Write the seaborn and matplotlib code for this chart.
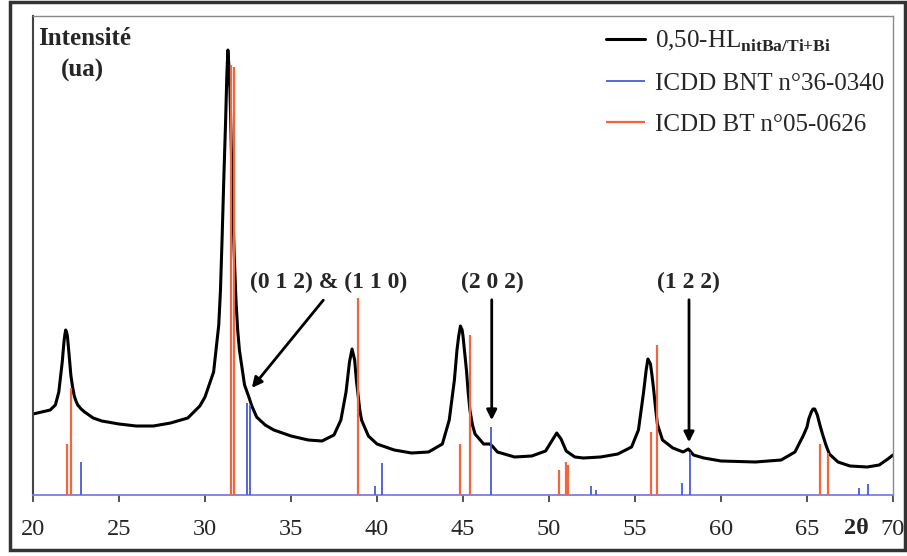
import matplotlib
matplotlib.use("Agg")
import matplotlib.pyplot as plt
import pandas as pd
import seaborn as sns
from matplotlib.patches import Rectangle

two_theta = [20.0, 20.5, 21.0, 21.3, 21.5, 21.6, 21.7, 21.8, 21.85, 21.9, 21.95, 22.0, 22.05,
             22.1, 22.2, 22.3, 22.4, 22.5, 22.6, 22.8, 23.0, 23.5, 24.0, 25.0, 26.0, 27.0,
             28.0, 29.0, 29.7, 30.0, 30.5, 30.8, 30.9, 31.0, 31.1, 31.2, 31.27, 31.33, 31.38,
             31.45, 31.5, 31.6, 31.7, 31.8, 31.9, 32.0, 32.3, 32.55, 32.7, 33.0, 33.5, 34.0,
             35.0, 36.0, 36.8, 37.5, 37.9, 38.2, 38.3, 38.4, 38.55, 38.7, 38.8, 38.9, 39.0,
             39.1, 39.5, 40.0, 41.0, 42.0, 43.0, 43.8, 44.2, 44.5, 44.65, 44.75, 44.85, 44.95,
             45.0, 45.1, 45.2, 45.3, 45.4, 45.55, 45.7, 46.2, 46.55, 46.7, 47.0, 48.0, 49.0,
             49.8, 50.2, 50.45, 50.7, 51.0, 51.5, 52.0, 53.0, 54.0, 54.8, 55.2, 55.5, 55.65,
             55.75, 55.9, 56.0, 56.1, 56.2, 56.3, 56.6, 57.2, 57.8, 58.1, 58.4, 59.0, 60.0,
             62.0, 63.5, 64.3, 64.8, 65.0, 65.1, 65.25, 65.35, 65.45, 65.6, 65.75, 65.9, 66.1,
             66.3, 66.8, 67.5, 68.5, 69.2, 69.7, 70.0]
intensity = [81, 83, 85, 90, 103, 118, 133, 153, 160, 165, 163, 159, 150,
             140, 120, 108, 99, 94, 90, 86, 83, 77, 74, 71, 69, 69,
             72, 77, 89, 98, 123, 170, 205, 260, 320, 375, 420, 445, 432,
             405, 370, 295, 240, 195, 165, 145, 110, 98, 90, 78, 70, 65,
             59, 55, 54, 60, 75, 103, 118, 133, 146, 135, 115, 100, 85,
             75, 59, 51, 45, 42, 43, 51, 75, 115, 145, 159, 169, 165,
             159, 142, 125, 103, 85, 70, 61, 51, 51, 49, 43, 38, 39,
             44, 55, 62, 56, 44, 38, 37, 38, 41, 48, 65, 103, 125,
             136, 131, 118, 103, 86, 71, 55, 47, 43, 46, 40, 37, 34,
             33, 35, 43, 60, 68, 76, 83, 86, 86, 80, 70, 61, 50,
             41, 33, 29, 28, 30, 36, 40]

# ICDD BT n°05-0626 reference lines
bt_pos = [22.0, 22.21, 31.51, 31.66, 38.9, 44.83, 45.38, 50.56, 50.97, 51.08, 55.91, 56.26, 65.78, 66.2]
bt_int = [51, 107, 430, 428, 197, 51, 160, 25, 33, 30, 63, 150, 51, 42]

# ICDD BNT n°36-0340 reference lines
bnt_pos = [22.79, 32.42, 32.62, 39.88, 40.29, 46.63, 52.42, 52.73, 57.73, 58.17, 68.0, 68.55]
bnt_int = [33, 92, 90, 9, 32, 68, 9, 5, 12, 43, 7, 11]

ticks = [20, 25, 30, 35, 40, 45, 50, 55, 60, 65, 70]

sns.set_style("white")
plt.rcParams["font.family"] = ["Liberation Serif", "DejaVu Serif"]
plt.rcParams["mathtext.fontset"] = "custom"
plt.rcParams["mathtext.rm"] = "Liberation Serif"
plt.rcParams["mathtext.bf"] = "Liberation Serif:bold"

fig = plt.figure(figsize=(9.07, 5.56), dpi=100)
ax = fig.add_axes([33 / 907, 61 / 556, 860 / 907, 479 / 556])

df = pd.DataFrame({"2theta": two_theta, "I": intensity})
sns.lineplot(data=df, x="2theta", y="I", ax=ax, color="black", lw=2.2,
             label=r"0,50-HL$_{\mathbf{nitBa/Ti{+}Bi}}$", zorder=2)
ax.vlines(bnt_pos, 0, bnt_int, color="#4a5bd6", lw=1.3, label="ICDD BNT n°36-0340", zorder=3)
ax.vlines(bt_pos, 0, bt_int, color="#f3653c", lw=1.6, label="ICDD BT n°05-0626", zorder=3)

ax.set_xlim(20, 70)
ax.set_ylim(0, 479)
ax.set_xticks(ticks)
ax.set_xticklabels([str(t) for t in ticks])
ax.set_yticks([])
ax.set_xlabel("")
ax.set_ylabel("")
ax.tick_params(axis="x", direction="out", length=5, width=1.2, color="#333333",
               labelsize=17.5, pad=12, bottom=True)

for side in ["top", "right"]:
    ax.spines[side].set_color("#8a8a8a")
    ax.spines[side].set_linewidth(1)
ax.spines["left"].set_color("#444444")
ax.spines["left"].set_linewidth(1.5)
ax.spines["bottom"].set_color("#7d7de6")
ax.spines["bottom"].set_linewidth(1.3)

ax.legend(loc="upper left", bbox_to_anchor=(0.652, 1.0), frameon=False, fontsize=18,
          handlelength=1.55, handletextpad=0.4, labelspacing=0.75, borderpad=0)

ax.text(0.006, 0.978, "Intensité", transform=ax.transAxes, fontsize=18, fontweight="bold",
        ha="left", va="top")
ax.text(0.058, 0.91, "(ua)", transform=ax.transAxes, fontsize=18, fontweight="bold",
        ha="center", va="top")

arrow = dict(arrowstyle="-|>,head_length=0.6,head_width=0.3", color="black", lw=2)
ax.text(37.21, 213, "(0 1 2) & (1 1 0)", fontsize=17, fontweight="bold", ha="center", va="center")
ax.annotate("", xy=(32.62, 105), xytext=(36.98, 197), arrowprops=arrow)
ax.text(46.72, 213, "(2 0 2)", fontsize=17, fontweight="bold", ha="center", va="center")
ax.annotate("", xy=(46.67, 72), xytext=(46.67, 198), arrowprops=arrow)
ax.text(58.11, 213, "(1 2 2)", fontsize=17, fontweight="bold", ha="center", va="center")
ax.annotate("", xy=(58.14, 50), xytext=(58.14, 198), arrowprops=arrow)

fig.text(856 / 907, 1 - 528 / 556, "2θ", fontsize=17.5, fontweight="bold", ha="center", va="center")

# outer frame of the picture
fig.patches.append(Rectangle((10 / 907, 6 / 556), 895 / 907, 548 / 556, transform=fig.transFigure,
                             fill=False, edgecolor="#333333", lw=2.5))

fig.savefig("out.png", dpi=100)
